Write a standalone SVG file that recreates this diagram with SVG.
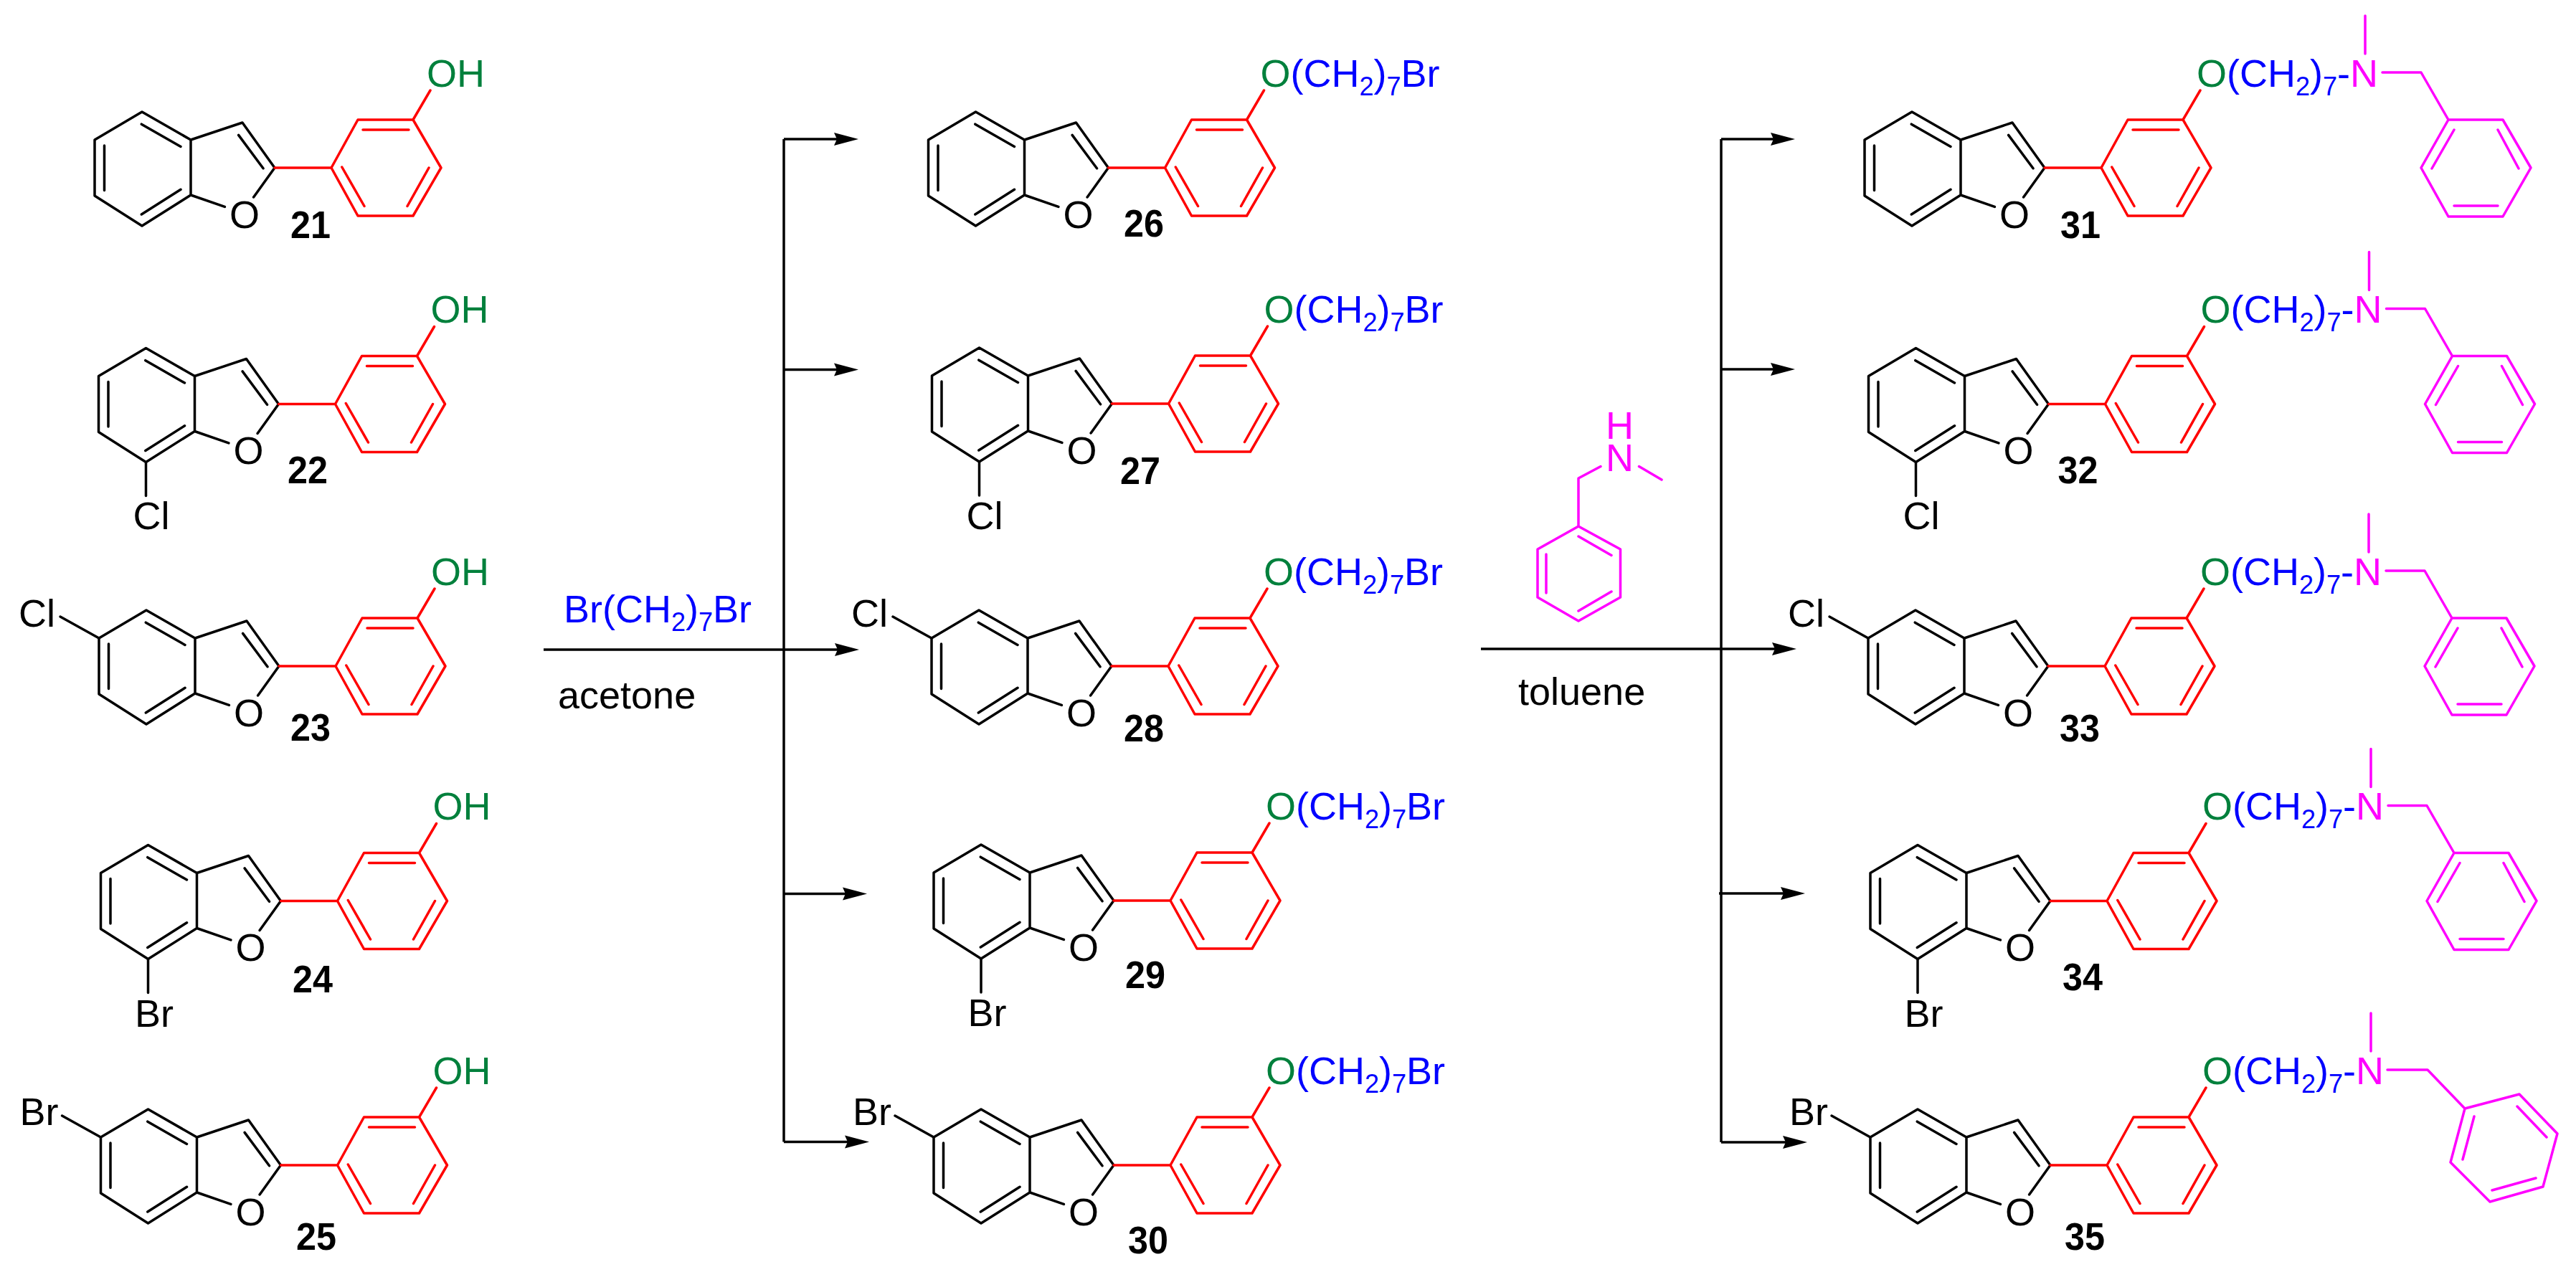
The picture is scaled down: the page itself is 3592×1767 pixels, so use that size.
<svg xmlns="http://www.w3.org/2000/svg" xmlns:xlink="http://www.w3.org/1999/xlink" width="3592" height="1767" viewBox="0 0 3592 1767">
<style>
text{font-family:"Liberation Sans",Arial,sans-serif;font-size:54px;fill:#000}
.n{font-weight:700}
.g{fill:#00803c}
.b{fill:#00f}
.m{fill:#f0f}
.s{font-size:36px}
.k,.r,.p,.c{fill:none;stroke-width:3.5;stroke-linecap:round;stroke-linejoin:round}
.k{stroke:#000}
.r{stroke:#f00}
.p{stroke:#f0f}
.c{stroke:#000;stroke-linecap:butt}
</style>
<defs>
<marker id="arrow" markerUnits="userSpaceOnUse" markerWidth="40" markerHeight="24" viewBox="0 -12 40 24" refX="4" refY="0" orient="auto"><path d="M0-9L34 0L0 9L4 0Z" fill="#000"/></marker>
<g id="core">
<path class="k" d="M198 156L132 195V273L198 315L266 272V195ZM197.300 173.200L252 204.500M145.500 203V265.600M197.300 299L252 264.300M266 195L338 171L383 234L353.600 275M266 272L313.400 288.400M332.600 188.400L367 234.800"/>
<path class="r" d="M383 234H462L499 167H576L615 234L576 301H499L462 234M506 181H570M476.800 233L508 287.500M598 234L568 287.500M576 167L600 126"/>
</g>
<path id="cl7" class="k" d="M198 315V362"/>
<path id="x5" class="k" d="M132 195L78 165"/>
<g id="amine">
<path class="p" d="M830 22V75M854 101H908L946 167H1022L1061 234L1022 302H946L908 234L946 167M954 181L923 235M1015 181L1044 235M954 287H1015"/>
</g>
</defs>
<g id="connectors">
<path class="c" d="M1093 194V1592.500"/>
<path class="c" d="M2400 194V1593"/>
<path class="c" marker-end="url(#arrow)" d="M1093 194H1167"/>
<path class="c" marker-end="url(#arrow)" d="M1093 515.500H1167"/>
<path class="c" marker-end="url(#arrow)" d="M758 906H1168"/>
<path class="c" marker-end="url(#arrow)" d="M1093 1246.500H1179"/>
<path class="c" marker-end="url(#arrow)" d="M1093 1592.500H1182"/>
<path class="c" marker-end="url(#arrow)" d="M2400 194H2473"/>
<path class="c" marker-end="url(#arrow)" d="M2400 515H2473"/>
<path class="c" marker-end="url(#arrow)" d="M2065 905H2475"/>
<path class="c" marker-end="url(#arrow)" d="M2397 1246H2487"/>
<path class="c" marker-end="url(#arrow)" d="M2400 1593H2490"/>
</g>
<g id="reagents">
<text x="786" y="868" class="b">Br(CH<tspan class="s" dy="12">2</tspan><tspan dy="-12">)</tspan><tspan class="s" dy="12">7</tspan><tspan dy="-12">Br</tspan></text>
<text x="778" y="988">acetone</text>
<text x="2117" y="983">toluene</text>
</g>
<g id="benzylmethylamine">
<path class="p" d="M2232 650.500L2201 667V734L2259.500 766V833L2201 866L2144 833V766L2201 734M2285.500 650.500L2317 669M2201 748L2247 774.500M2156 773V827M2201 852L2247 825"/>
<text x="2239" y="611.500" class="m">H<tspan x="2239" dy="45.500">N</tspan></text>
</g>

<g id="c21"><use href="#core" xlink:href="#core"/><text x="320" y="317.500">O</text><text x="595" y="120.500" class="g">OH</text><text x="405" y="332" class="n" textLength="56" lengthAdjust="spacingAndGlyphs">21</text></g>

<g id="c22" transform="translate(5.500 329.500)"><use href="#core" xlink:href="#core"/><use href="#cl7" xlink:href="#cl7"/><text x="320" y="317.500">O</text><text x="595" y="120.500" class="g">OH</text><text x="180" y="408.500">Cl</text><text x="395.500" y="344.500" class="n" textLength="56" lengthAdjust="spacingAndGlyphs">22</text></g>

<g id="c23" transform="translate(6 695)"><use href="#core" xlink:href="#core"/><use href="#x5" xlink:href="#x5"/><text x="320" y="317.500">O</text><text x="595" y="120.500" class="g">OH</text><text x="20" y="179">Cl</text><text x="399" y="338" class="n" textLength="56" lengthAdjust="spacingAndGlyphs">23</text></g>

<g id="c24" transform="translate(8.500 1022.500)"><use href="#core" xlink:href="#core"/><use href="#cl7" xlink:href="#cl7"/><text x="320" y="317.500">O</text><text x="595" y="120.500" class="g">OH</text><text x="179.500" y="409">Br</text><text x="399.500" y="361.500" class="n" textLength="56" lengthAdjust="spacingAndGlyphs">24</text></g>

<g id="c25" transform="translate(8.500 1391)"><use href="#core" xlink:href="#core"/><use href="#x5" xlink:href="#x5"/><text x="320" y="317.500">O</text><text x="595" y="120.500" class="g">OH</text><text x="19" y="178">Br</text><text x="404.500" y="352" class="n" textLength="56" lengthAdjust="spacingAndGlyphs">25</text></g>

<g id="c26" transform="translate(1162.500 0)"><use href="#core" xlink:href="#core"/><text x="320" y="317.500">O</text><text x="595" y="120.500" class="b"><tspan class="g">O</tspan>(CH<tspan class="s" dy="12">2</tspan><tspan dy="-12">)</tspan><tspan class="s" dy="12">7</tspan><tspan dy="-12">Br</tspan></text><text x="404.500" y="330" class="n" textLength="56" lengthAdjust="spacingAndGlyphs">26</text></g>

<g id="c27" transform="translate(1167.500 329)"><use href="#core" xlink:href="#core"/><use href="#cl7" xlink:href="#cl7"/><text x="320" y="317.500">O</text><text x="595" y="120.500" class="b"><tspan class="g">O</tspan>(CH<tspan class="s" dy="12">2</tspan><tspan dy="-12">)</tspan><tspan class="s" dy="12">7</tspan><tspan dy="-12">Br</tspan></text><text x="180" y="408.500">Cl</text><text x="394.500" y="345.500" class="n" textLength="56" lengthAdjust="spacingAndGlyphs">27</text></g>

<g id="c28" transform="translate(1167 695)"><use href="#core" xlink:href="#core"/><use href="#x5" xlink:href="#x5"/><text x="320" y="317.500">O</text><text x="595" y="120.500" class="b"><tspan class="g">O</tspan>(CH<tspan class="s" dy="12">2</tspan><tspan dy="-12">)</tspan><tspan class="s" dy="12">7</tspan><tspan dy="-12">Br</tspan></text><text x="20" y="179">Cl</text><text x="400" y="339" class="n" textLength="56" lengthAdjust="spacingAndGlyphs">28</text></g>

<g id="c29" transform="translate(1170 1022)"><use href="#core" xlink:href="#core"/><use href="#cl7" xlink:href="#cl7"/><text x="320" y="317.500">O</text><text x="595" y="120.500" class="b"><tspan class="g">O</tspan>(CH<tspan class="s" dy="12">2</tspan><tspan dy="-12">)</tspan><tspan class="s" dy="12">7</tspan><tspan dy="-12">Br</tspan></text><text x="179.500" y="409">Br</text><text x="399" y="355.500" class="n" textLength="56" lengthAdjust="spacingAndGlyphs">29</text></g>

<g id="c30" transform="translate(1170 1391)"><use href="#core" xlink:href="#core"/><use href="#x5" xlink:href="#x5"/><text x="320" y="317.500">O</text><text x="595" y="120.500" class="b"><tspan class="g">O</tspan>(CH<tspan class="s" dy="12">2</tspan><tspan dy="-12">)</tspan><tspan class="s" dy="12">7</tspan><tspan dy="-12">Br</tspan></text><text x="19" y="178">Br</text><text x="403" y="356.500" class="n" textLength="56" lengthAdjust="spacingAndGlyphs">30</text></g>

<g id="c31" transform="translate(2468 0)"><use href="#core" xlink:href="#core"/><use href="#amine" xlink:href="#amine"/><text x="320" y="317.500">O</text><text x="595" y="120.500" class="b"><tspan class="g">O</tspan>(CH<tspan class="s" dy="12">2</tspan><tspan dy="-12">)</tspan><tspan class="s" dy="12">7</tspan><tspan dy="-12">-</tspan><tspan class="m">N</tspan></text><text x="405" y="332" class="n" textLength="56" lengthAdjust="spacingAndGlyphs">31</text></g>

<g id="c32" transform="translate(2473.500 329.500)"><use href="#core" xlink:href="#core"/><use href="#cl7" xlink:href="#cl7"/><use href="#amine" xlink:href="#amine"/><text x="320" y="317.500">O</text><text x="595" y="120.500" class="b"><tspan class="g">O</tspan>(CH<tspan class="s" dy="12">2</tspan><tspan dy="-12">)</tspan><tspan class="s" dy="12">7</tspan><tspan dy="-12">-</tspan><tspan class="m">N</tspan></text><text x="180" y="408.500">Cl</text><text x="396" y="344.500" class="n" textLength="56" lengthAdjust="spacingAndGlyphs">32</text></g>

<g id="c33" transform="translate(2473 695)"><use href="#core" xlink:href="#core"/><use href="#x5" xlink:href="#x5"/><use href="#amine" xlink:href="#amine"/><text x="320" y="317.500">O</text><text x="595" y="120.500" class="b"><tspan class="g">O</tspan>(CH<tspan class="s" dy="12">2</tspan><tspan dy="-12">)</tspan><tspan class="s" dy="12">7</tspan><tspan dy="-12">-</tspan><tspan class="m">N</tspan></text><text x="20" y="179">Cl</text><text x="399" y="339" class="n" textLength="56" lengthAdjust="spacingAndGlyphs">33</text></g>

<g id="c34" transform="translate(2476 1022.500)"><use href="#core" xlink:href="#core"/><use href="#cl7" xlink:href="#cl7"/><use href="#amine" xlink:href="#amine"/><text x="320" y="317.500">O</text><text x="595" y="120.500" class="b"><tspan class="g">O</tspan>(CH<tspan class="s" dy="12">2</tspan><tspan dy="-12">)</tspan><tspan class="s" dy="12">7</tspan><tspan dy="-12">-</tspan><tspan class="m">N</tspan></text><text x="179.500" y="409">Br</text><text x="400" y="358.500" class="n" textLength="56" lengthAdjust="spacingAndGlyphs">34</text></g>

<g id="c35" transform="translate(2476 1391)"><use href="#core" xlink:href="#core"/><use href="#x5" xlink:href="#x5"/><path class="p" d="M830 22V75M853 101H909L961 155L1037 135L1090 190L1070 264L996 285L941 230L961 155M974 166L958 226M1034 152L1075 195M999 269L1060 252"/><text x="320" y="317.500">O</text><text x="595" y="120.500" class="b"><tspan class="g">O</tspan>(CH<tspan class="s" dy="12">2</tspan><tspan dy="-12">)</tspan><tspan class="s" dy="12">7</tspan><tspan dy="-12">-</tspan><tspan class="m">N</tspan></text><text x="19" y="178">Br</text><text x="403" y="352" class="n" textLength="56" lengthAdjust="spacingAndGlyphs">35</text></g>
</svg>
